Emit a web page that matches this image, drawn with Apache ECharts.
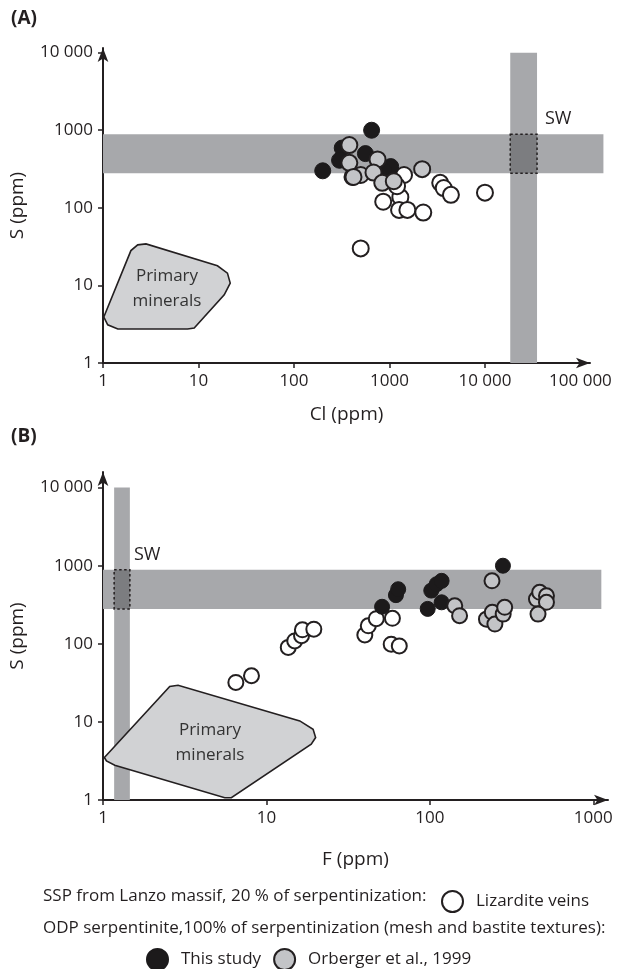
<!DOCTYPE html>
<html><head><meta charset="utf-8">
<script src="https://cdn.jsdelivr.net/npm/echarts@6/dist/echarts.min.js"></script>
<style>html,body{margin:0;padding:0;background:#fff}#c{width:617px;height:969px}</style>
</head><body><div id="c"></div>
<script>
const FONT = '"Open Sans", sans-serif';
const INK = '#231f20';

// tick values and labels
const xTicksA = [1, 10, 100, 1000, 10000, 100000];
const xTickLabelsA = ['1', '10', '100', '1000', '10 000', '100 000'];
const yTicks = [1, 10, 100, 1000, 10000];
const yTickLabels = ['1', '10', '100', '1000', '10 000'];
const xTicksB = [1, 10, 100, 1000];
const xTickLabelsB = ['1', '10', '100', '1000'];

// Panel A: [Cl ppm, S ppm]
const lizarditeA = [[3400,210],[3700,180],[4400,147],[10000,157],[860,120],[1300,137],[1260,94],[1540,94],[2260,87],[500,30],[410,250],[1420,265],[1200,190]];
const thisStudyA = [[650,1000],[200,300],[320,590],[300,410],[560,500],[1030,340],[870,300]];
const orbergerA = [[380,645],[380,380],[500,265],[420,250],[750,420],[680,285],[840,210],[1110,220],[2200,315]];

// Panel B: [F ppm, S ppm]
const lizarditeB = [[6.5,32],[8.1,39],[13.6,90],[14.9,109],[16.4,127],[16.6,151],[19.5,154],[40,130],[42,170],[47,210],[59,212],[58,99],[65,94]];
const thisStudyB = [[51,298],[62,420],[64,500],[97,280],[102,480],[110,580],[118,640],[118,340],[280,1000]];
const orbergerB = [[240,640],[142,307],[152,229],[222,207],[241,253],[250,179],[281,240],[287,293],[449,374],[470,456],[517,412],[517,340],[459,240]];

// seawater (SW) ranges
const swS = [280, 890];
const swCl = [18400, 35100];
const swF = [1.17, 1.46];
const swSBandEndA = 174000;   // horizontal band x-extent, panel A
const swSBandEndB = 1120;     // horizontal band x-extent, panel B
const swVertTop = 10000;

// primary minerals fields
const primaryA = [[1.02,3.91],[1.96,28.1],[2.31,33.3],[2.82,34.3],[15.8,17.9],[20.1,14.4],[21.5,10.7],[18.6,7.57],[9.02,2.82],[7.69,2.74],[1.43,2.74],[1.12,3.11]];
const primaryB = [[1.02,3.5],[2.56,28.4],[2.88,29.5],[16.0,10.3],[19.3,8.06],[20.0,6.31],[18.8,5.18],[6.1,1.07],[5.56,1.07],[1.18,2.79],[1.05,3.16]];

function labelFrom(ticks, labels) {
  return v => { const i = ticks.findIndex(t => Math.abs(Math.log10(t) - Math.log10(v)) < 1e-6); return i >= 0 ? labels[i] : ''; };
}

function bandRender(xr, yr, hEnd) {
  return function (params, api) {
    const r = (x0, y0, x1, y1) => {
      const p0 = api.coord([x0, y0]), p1 = api.coord([x1, y1]);
      return { x: Math.min(p0[0], p1[0]), y: Math.min(p0[1], p1[1]), width: Math.abs(p1[0] - p0[0]), height: Math.abs(p1[1] - p0[1]) };
    };
    return { type: 'group', children: [
      { type: 'rect', shape: r(1, yr[0], hEnd, yr[1]), style: { fill: '#a7a8ab' } },
      { type: 'rect', shape: r(xr[0], 1, xr[1], swVertTop), style: { fill: '#a7a8ab' } },
      { type: 'rect', shape: r(xr[0], yr[0], xr[1], yr[1]), style: { fill: '#7c7d80', stroke: INK, lineWidth: 1.5, lineDash: [2.5, 2.5] } }
    ]};
  };
}
function polyRender(pts) {
  return function (params, api) {
    return { type: 'polygon', shape: { points: pts.map(p => api.coord(p)) }, style: { fill: '#d1d2d4', stroke: INK, lineWidth: 1.6 } };
  };
}

function xAxisCfg(grid, max, ticks, labels, tickVals, name, gap) {
  return {
    type: 'log', logBase: 10, gridIndex: grid, min: 1, max: max,
    axisLine: { show: true, lineStyle: { color: INK, width: 2 }, symbol: ['none', 'arrow'], symbolSize: [8, 14] },
    axisTick: { show: true, customValues: tickVals, length: 5, lineStyle: { color: INK, width: 1.5 } },
    axisLabel: { customValues: ticks, formatter: labelFrom(ticks, labels), fontFamily: FONT, fontSize: 17, color: INK, margin: 10 },
    splitLine: { show: false }, minorTick: { show: false },
    name: name, nameLocation: 'middle', nameGap: gap, nameTextStyle: { fontFamily: FONT, fontSize: 19, color: INK }
  };
}
function yAxisCfg(grid, max) {
  return {
    type: 'log', logBase: 10, gridIndex: grid, min: 1, max: max,
    axisLine: { show: true, lineStyle: { color: INK, width: 2 }, symbol: ['none', 'arrow'], symbolSize: [8, 14] },
    axisTick: { show: true, customValues: yTicks, length: 5, lineStyle: { color: INK, width: 1.5 } },
    axisLabel: { customValues: yTicks, formatter: labelFrom(yTicks, yTickLabels), fontFamily: FONT, fontSize: 17, color: INK, margin: 10 },
    splitLine: { show: false },
    name: 'S (ppm)', nameLocation: 'middle', nameGap: 76, nameRotate: 90, nameTextStyle: { fontFamily: FONT, fontSize: 19, color: INK }
  };
}

const white = { color: '#ffffff', borderColor: INK, borderWidth: 2, opacity: 1 };
const black = { color: '#1c1a1b', borderColor: '#1c1a1b', borderWidth: 1, opacity: 1 };
const gray = { color: '#c3c4c7', borderColor: INK, borderWidth: 2, opacity: 1 };

function scatter(name, data, xi, style, size) {
  return { type: 'scatter', name: name, xAxisIndex: xi, yAxisIndex: xi, data: data, symbol: 'circle', symbolSize: size, itemStyle: style, z: 5, emphasis: { disabled: true } };
}

const L1 = 896, L2 = 928, L3 = 954;
const chart = echarts.init(document.getElementById('c'), null, { renderer: 'canvas' });
chart.setOption({
  animation: false,
  backgroundColor: '#fff',
  grid: [
    { left: 102, top: 48, width: 488, height: 315 },
    { left: 103, top: 472, width: 505, height: 328 }
  ],
  xAxis: [
    xAxisCfg(0, Math.pow(10, 5.1), xTicksA, xTickLabelsA, [1, 10, 100, 1000, 10000], 'Cl (ppm)', 42),
    xAxisCfg(1, Math.pow(10, 3.09), xTicksB, xTickLabelsB, xTicksB, 'F (ppm)', 50)
  ],
  yAxis: [ yAxisCfg(0, Math.pow(10, 4.06)), yAxisCfg(1, Math.pow(10, 4.2)) ],
  legend: [
    { data: ['Lizardite veins'], left: 436, top: L1 - 11, itemWidth: 21, itemHeight: 21, icon: 'circle',
      textStyle: { fontFamily: FONT, fontSize: 17, color: INK, padding: [0, 0, 0, 8] }, selectedMode: false },
    { data: ['This study', 'Orberger et al., 1999'], left: 141, top: L3 - 11, itemWidth: 21, itemHeight: 21, icon: 'circle', itemGap: 12,
      textStyle: { fontFamily: FONT, fontSize: 17, color: INK, padding: [0, 0, 0, 8] }, selectedMode: false }
  ],
  graphic: [
    { type: 'text', left: 11, top: 9, style: { text: '(A)', font: 'bold 19px ' + FONT, fill: INK } },
    { type: 'text', left: 11, top: 427, style: { text: '(B)', font: 'bold 19px ' + FONT, fill: INK } },
    { type: 'text', left: 545, top: 110, style: { text: 'SW', font: '18px ' + FONT, fill: INK } },
    { type: 'text', left: 134, top: 546, style: { text: 'SW', font: '18px ' + FONT, fill: INK } },
    { type: 'text', x: 167, y: 289, z: 10, style: { text: 'Primary\nminerals', font: '17px ' + FONT, fill: '#333', align: 'center', verticalAlign: 'middle', lineHeight: 25 } },
    { type: 'text', x: 210, y: 743, z: 10, style: { text: 'Primary\nminerals', font: '17px ' + FONT, fill: '#333', align: 'center', verticalAlign: 'middle', lineHeight: 25 } },
    { type: 'text', x: 43, y: L1, style: { text: 'SSP from Lanzo massif, 20 % of serpentinization:', font: '17px ' + FONT, fill: INK, verticalAlign: 'middle' } },
    { type: 'text', x: 43, y: L2, style: { text: 'ODP serpentinite,100% of serpentinization (mesh and bastite textures):', font: '17px ' + FONT, fill: INK, verticalAlign: 'middle' } }
  ],
  series: [
    { type: 'custom', xAxisIndex: 0, yAxisIndex: 0, data: [[swCl[0], swS[0]]], renderItem: bandRender(swCl, swS, swSBandEndA), clip: false, z: 1, silent: true },
    { type: 'custom', xAxisIndex: 1, yAxisIndex: 1, data: [[swF[0], swS[0]]], renderItem: bandRender(swF, swS, swSBandEndB), clip: false, z: 1, silent: true },
    { type: 'custom', xAxisIndex: 0, yAxisIndex: 0, data: [primaryA[0]], renderItem: polyRender(primaryA), clip: false, z: 2, silent: true },
    { type: 'custom', xAxisIndex: 1, yAxisIndex: 1, data: [primaryB[0]], renderItem: polyRender(primaryB), clip: false, z: 2, silent: true },
    scatter('Lizardite veins', lizarditeA, 0, white, 16),
    scatter('This study', thisStudyA, 0, black, 16),
    scatter('Orberger et al., 1999', orbergerA, 0, gray, 16),
    scatter('Lizardite veins', lizarditeB, 1, white, 15),
    scatter('This study', thisStudyB, 1, black, 15),
    scatter('Orberger et al., 1999', orbergerB, 1, gray, 15)
  ]
});
</script>
</body></html>
